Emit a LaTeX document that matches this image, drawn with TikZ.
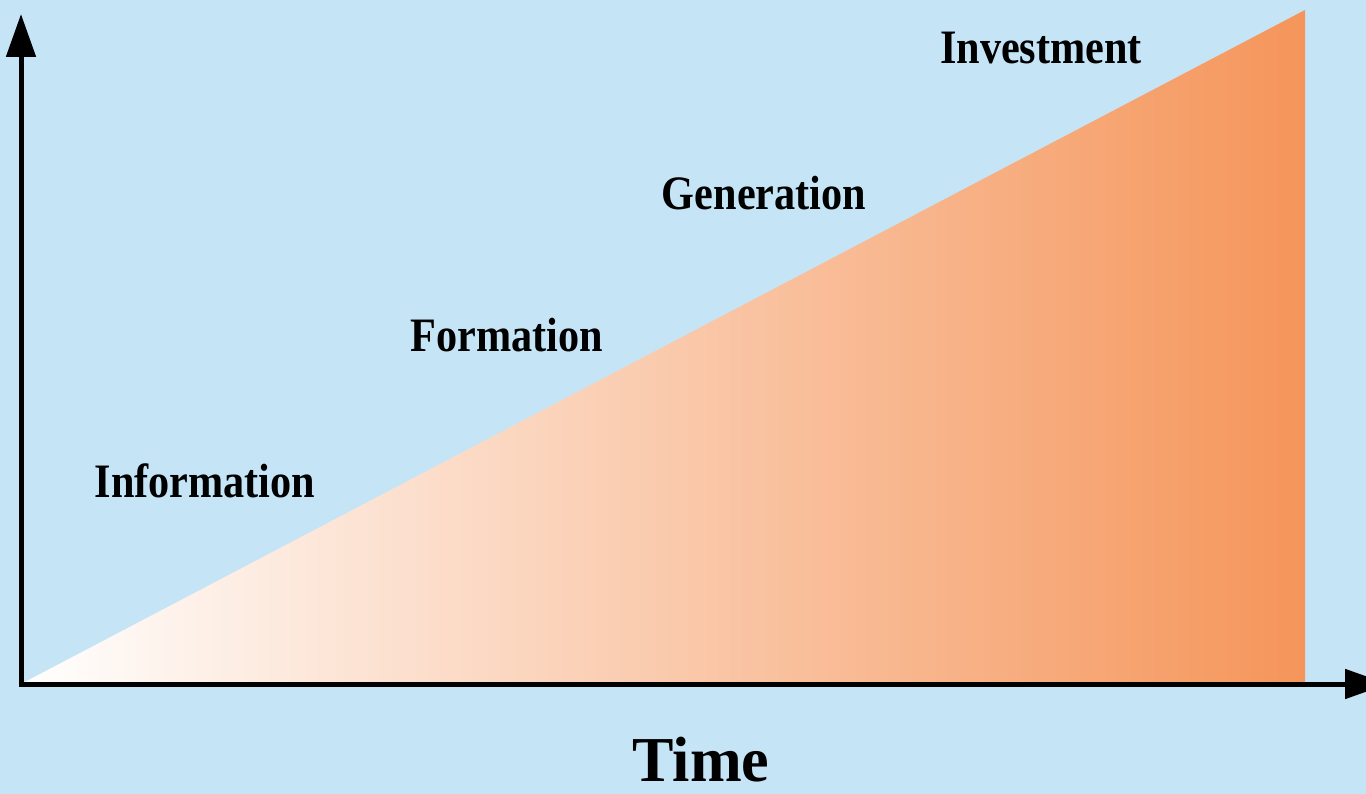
\documentclass[tikz,border=0pt]{standalone}
\usepackage{fontspec}
\setmainfont{Liberation Serif}
\usetikzlibrary{arrows.meta}
\definecolor{bgblue}{HTML}{C5E5F7}
\definecolor{rampend}{HTML}{F5955A}
\newcommand{\stagelbl}[1]{\scalebox{0.88}[1]{\fontsize{48}{50}\selectfont\bfseries #1}}
\tikzset{
  axis/.style={line width=5pt, line join=miter, -{Triangle[length=43pt,width=29pt]}},
  stage/.style={inner sep=0pt, anchor=base},
}
\begin{document}
\begin{tikzpicture}[x=1pt,y=-1pt]
\useasboundingbox (0,0) rectangle (1366,794);
\clip (0,0) rectangle (1366,794);
\fill[bgblue] (0,0) rectangle (1366,794);
% ramp
\coordinate (o) at (21,684);
\coordinate (top) at (1305,10);
\coordinate (br) at (1305,684);
\shade[left color=white, right color=rampend] (o) -- (top) -- (br) -- cycle;
% axes
\coordinate (ytip) at (21,14);
\coordinate (xtip) at (1388,684);
\draw[axis] ([yshift=2.5pt]o) -- (ytip);
\draw[axis] ([xshift=-2.5pt]o) -- (xtip);
% labels
\node[stage] (info) at (205,497) {\stagelbl{Information}};
\node[stage] (form) at (507,352) {\stagelbl{Formation}};
\node[stage] (gen) at (764,210) {\stagelbl{Generation}};
\node[stage] (inv) at (1041,64) {\stagelbl{Investment}};
\node[stage] (time) at (701,781) {\scalebox{0.97}[1]{\fontsize{64}{68}\selectfont\bfseries Time}};
\end{tikzpicture}
\end{document}
